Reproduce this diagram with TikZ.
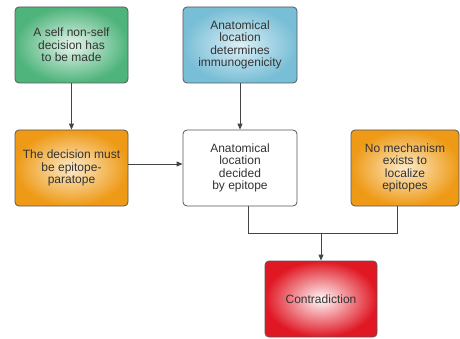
\documentclass[tikz,border=0pt]{standalone}
\usepackage{fontspec}
\setmainfont{Liberation Sans}
\usetikzlibrary{arrows.meta}
\definecolor{greenE}{HTML}{4FB47C}
\definecolor{greenC}{HTML}{E6F5EC}
\definecolor{blueE}{HTML}{78BED6}
\definecolor{blueC}{HTML}{DDF0F6}
\definecolor{orangeE}{HTML}{EE9A16}
\definecolor{orangeC}{HTML}{FCEBCB}
\definecolor{redE}{HTML}{E01824}
\definecolor{redC}{HTML}{FFF8F8}
\definecolor{lineC}{HTML}{444444}
\tikzset{
  box/.style={draw=lineC!90, line width=0.8pt, rounded corners=4pt, minimum height=76pt,
    align=center, inner sep=1pt, font=\fontsize{12}{12.3}\selectfont, text=black!80},
  greenbox/.style={box, inner color=greenC, outer color=greenE},
  bluebox/.style={box, inner color=blueC, outer color=blueE},
  orangebox/.style={box, inner color=orangeC, outer color=orangeE},
  redbox/.style={box, inner color=redC, outer color=redE},
  whitebox/.style={box, fill=white},
  conn/.style={draw=lineC, line width=0.9pt},
  arr/.style={conn, -{Triangle[length=6pt,width=5pt]}}
}
\begin{document}
\begin{tikzpicture}[x=1pt,y=-1pt]
\useasboundingbox (0,0) rectangle (460,339);
\node[greenbox, minimum width=113pt] (g) at (71.5,45) {A self non-self\\decision has\\to be made};
\node[bluebox, minimum width=114pt] (b) at (240,45) {Anatomical\\location\\determines\\immunogenicity};
\node[orangebox, minimum width=113pt] (ol) at (71.5,168) {The decision must\\be epitope-\\paratope};
\node[whitebox, minimum width=114pt] (w) at (240,168) {Anatomical\\location\\decided\\by epitope};
\node[orangebox, minimum width=108pt] (or) at (405,168) {No mechanism\\exists to\\localize\\epitopes};
\node[redbox, minimum width=112pt] (r) at (321,299) {Contradiction};
\coordinate (jl) at (248,233);
\coordinate (jr) at (397,233);
\coordinate (j) at (321,233);
\draw[arr] (g) -- (ol);
\draw[arr] (b) -- (w);
\draw[arr] ([yshift=4pt]ol.east) -- ([yshift=4pt]w.west);
\draw[conn] ([xshift=8pt]w.south) -- (jl) -- (jr) -- ([xshift=-8pt]or.south);
\draw[arr] (j) -- (r);
\end{tikzpicture}
\end{document}
